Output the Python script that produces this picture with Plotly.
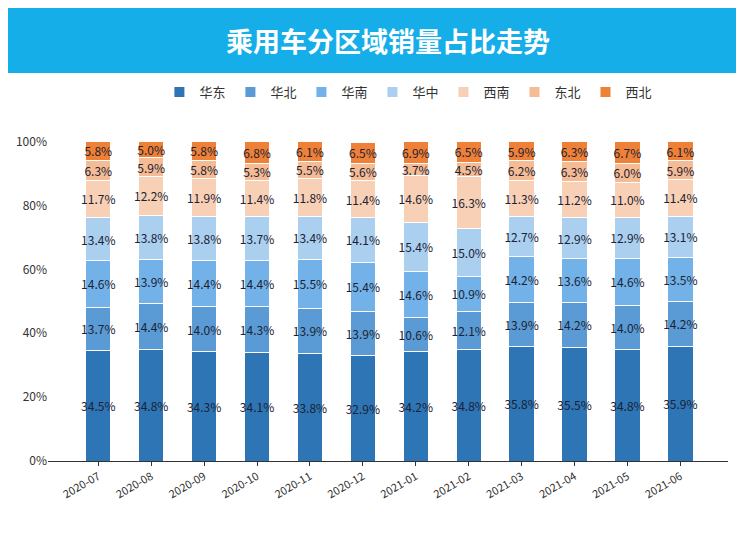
import plotly.graph_objects as go

months = ["2020-07","2020-08","2020-09","2020-10","2020-11","2020-12","2021-01","2021-02","2021-03","2021-04","2021-05","2021-06"]
huadong = [34.5,34.8,34.3,34.1,33.8,32.9,34.2,34.8,35.8,35.5,34.8,35.9]
huabei  = [13.7,14.4,14.0,14.3,13.9,13.9,10.6,12.1,13.9,14.2,14.0,14.2]
huanan  = [14.6,13.9,14.4,14.4,15.5,15.4,14.6,10.9,14.2,13.6,14.6,13.5]
huazhong= [13.4,13.8,13.8,13.7,13.4,14.1,15.4,15.0,12.7,12.9,12.9,13.1]
xinan   = [11.7,12.2,11.9,11.4,11.8,11.4,14.6,16.3,11.3,11.2,11.0,11.4]
dongbei = [6.3,5.9,5.8,5.3,5.5,5.6,3.7,4.5,6.2,6.3,6.0,5.9]
xibei   = [5.8,5.0,5.8,6.8,6.1,6.5,6.9,6.5,5.9,6.3,6.7,6.1]
yticks = [0,20,40,60,80,100]

series = [("华东",huadong,"#2e75b6"),("华北",huabei,"#5b9bd5"),("华南",huanan,"#72b2e8"),
          ("华中",huazhong,"#aacfef"),("西南",xinan,"#f8d0b6"),("东北",dongbei,"#f5bb95"),("西北",xibei,"#ef8038")]

fig = go.Figure()
xs = list(range(len(months)))
for name, vals, col in series:
    fig.add_bar(x=xs, y=vals, name=name, marker=dict(color=col, line=dict(color="white", width=1)),
                text=[f"{v:.1f}%" for v in vals], textposition="inside", insidetextanchor="middle",
                textangle=0, constraintext="none",
                textfont=dict(size=12, color="#1a2233"), cliponaxis=False)

fig.add_shape(type="rect", xref="paper", yref="paper", x0=-0.08, x1=1.05, y0=1.2125, y1=1.43,
              fillcolor="#16aee9", line_width=0, layer="below")
fig.add_annotation(text="<b>乘用车分区域销量占比走势</b>", xref="paper", yref="paper", x=0.5, y=1.315,
                   showarrow=False, font=dict(size=27, color="white"), yanchor="middle")

fig.update_layout(
    width=744, height=558, barmode="stack", bargap=0.52,
    margin=dict(l=40, r=24, t=133, b=105, autoexpand=False),
    plot_bgcolor="white", paper_bgcolor="white",
    font=dict(family="Noto Sans CJK SC", color="#333"),
    uniformtext=dict(minsize=12, mode="show"),
    legend=dict(orientation="h", x=0.53, xanchor="center", y=1.153, yanchor="middle",
                font=dict(size=13), traceorder="normal", itemwidth=30, itemsizing="constant"),
    xaxis=dict(tickmode="array", tickvals=xs, ticktext=months, range=[-0.95, 11.9], automargin=False,
               tickangle=-30, showline=True, linecolor="#333", showgrid=False, tickfont=dict(size=11),
               ticks="outside", ticklen=4, tickcolor="#333"),
    yaxis=dict(range=[0, 100.2], tickmode="array", tickvals=yticks, ticktext=[f"{v}%" for v in yticks],
               showgrid=False, tickfont=dict(size=12), showline=False, automargin=False),
)
fig.write_html("out.html")
